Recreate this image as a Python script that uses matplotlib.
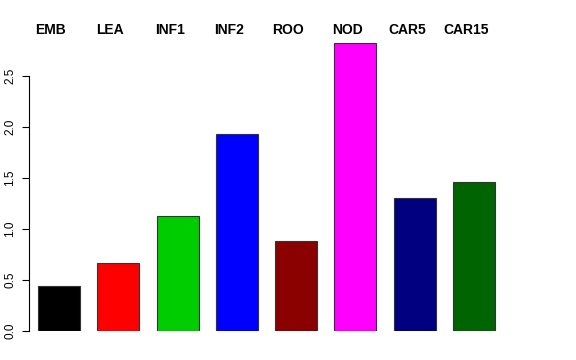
import matplotlib
matplotlib.use('Agg')
import matplotlib.pyplot as plt
import numpy as np

plt.rcParams['font.family'] = ['Liberation Sans', 'DejaVu Sans']

# data
tissues = ['EMB', 'LEA', 'INF1', 'INF2', 'ROO', 'NOD', 'CAR5', 'CAR15']
values = [0.44, 0.67, 1.13, 1.93, 0.885, 2.82, 1.30, 1.46]
colors = ['#000000', '#FF0000', '#00CD00', '#0000FF', '#8B0000', '#FF00FF', '#000080', '#006400']
yticks = [0.0, 0.5, 1.0, 1.5, 2.0, 2.5]

W, H = 576, 360
fig = plt.figure(figsize=(W / 100, H / 100), dpi=100)
# plot region in pixels (R-like margins)
left, right, bottom, top = 29, 547, 331, 35
ax = fig.add_axes([left / W, (H - bottom) / H, (right - left) / W, (bottom - top) / H])

px_per_unit = 59.3
x = np.arange(len(tissues))
ax.bar(x, values, width=42 / px_per_unit, color=colors, edgecolor='#333333', linewidth=0.8)
ax.set_xlim((left - 59) / px_per_unit, (right - 59) / px_per_unit)
ymax = (bottom - top) / 102
ax.set_ylim(0, ymax)

for s in ['top', 'right', 'bottom']:
    ax.spines[s].set_visible(False)
ax.spines['left'].set_bounds(0, 2.5)
ax.spines['left'].set_linewidth(0.8)
ax.set_xticks([])
ax.set_yticks(yticks)
ax.set_yticklabels([f'{t:.1f}' for t in yticks], rotation=90, va='center', fontsize=8.5)
ax.tick_params(axis='y', length=5, width=0.8, pad=4)

# tissue labels across the top, slightly left of each bar
for xi, name in zip(x, tissues):
    ax.text(xi - 8 / px_per_unit, (bottom - 30) / 102, name, ha='center', va='center',
            fontsize=10, fontweight='bold', clip_on=False)

fig.savefig('out.png', dpi=100)
